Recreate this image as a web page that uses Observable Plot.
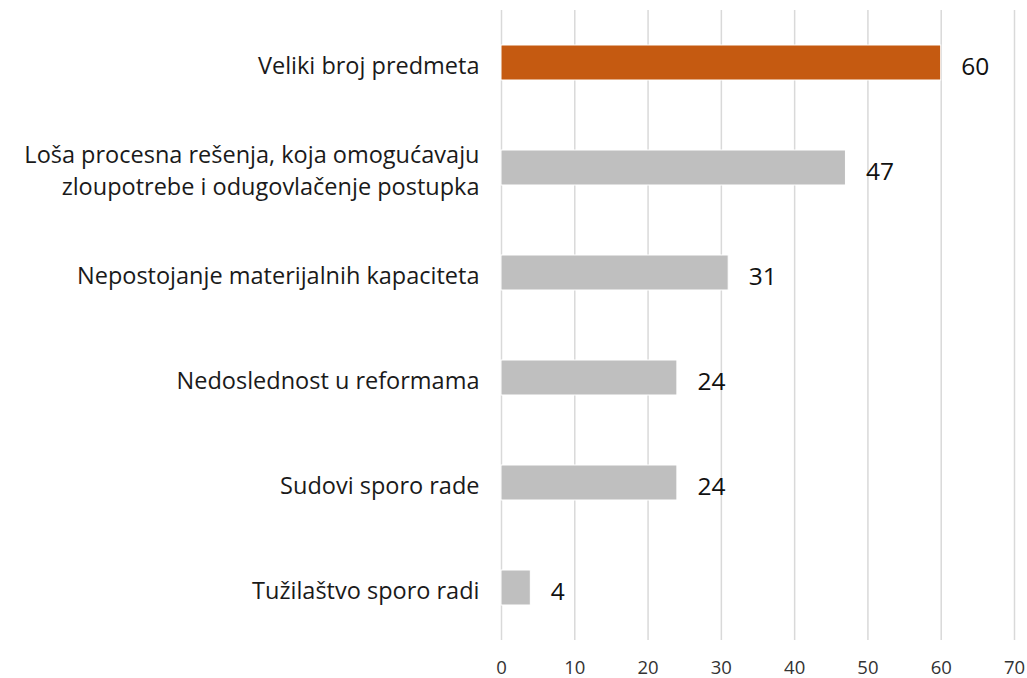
<!DOCTYPE html>
<html><head><meta charset="utf-8">
<script src="https://cdn.jsdelivr.net/npm/d3@7"></script>
<script src="https://cdn.jsdelivr.net/npm/@observablehq/plot@0.6"></script>
<style>
body{margin:0;background:#fff;}
#chart{width:1027px;height:678px;}
</style></head>
<body><div id="chart"></div>
<script>
const categories = [
  "Veliki broj predmeta",
  "Loša procesna rešenja, koja omogućavaju\nzloupotrebe i odugovlačenje postupka",
  "Nepostojanje materijalnih kapaciteta",
  "Nedoslednost u reformama",
  "Sudovi sporo rade",
  "Tužilaštvo sporo radi"
];
const values = [60, 47, 31, 24, 24, 4];
const highlight = [true, false, false, false, false, false];
const xTicks = [0, 10, 20, 30, 40, 50, 60, 70];

const data = categories.map((c, i) => ({cat: c, value: values[i], hi: highlight[i]}));
const FONT = "'Open Sans', Lato, sans-serif";

const chart = Plot.plot({
  width: 1027,
  height: 678,
  marginLeft: 501,
  marginRight: 13,
  marginTop: 10,
  marginBottom: 38,
  style: {fontFamily: FONT, background: "#fff"},
  x: {domain: [0, 70], ticks: xTicks, label: null},
  y: {domain: categories, paddingInner: 0.667, paddingOuter: 0.333, label: null, axis: null},
  marks: [
    Plot.ruleX(xTicks, {stroke: "#d9d9d9", strokeWidth: 1.5}),
    Plot.barX(data, {y: "cat", x: "value", fill: d => d.hi ? "#c55a11" : "#bfbfbf", stroke: "#fff", strokeWidth: 1}),
    Plot.text(data, {y: "cat", x: "value", text: d => String(d.value), textAnchor: "start", dx: 20, dy: 4, fontSize: 24.5, fill: "#111"}),
    Plot.text(data, {y: "cat", text: "cat", frameAnchor: "left", textAnchor: "end", dx: -22, dy: 1, fontSize: 23.5, lineHeight: 1.36, fill: "#1a1a1a"}),
    Plot.axisX({ticks: xTicks, tickSize: 0, tickPadding: 20, fontSize: 18.5, color: "#333", label: null})
  ]
});
document.getElementById("chart").appendChild(chart);
</script>
</body></html>
